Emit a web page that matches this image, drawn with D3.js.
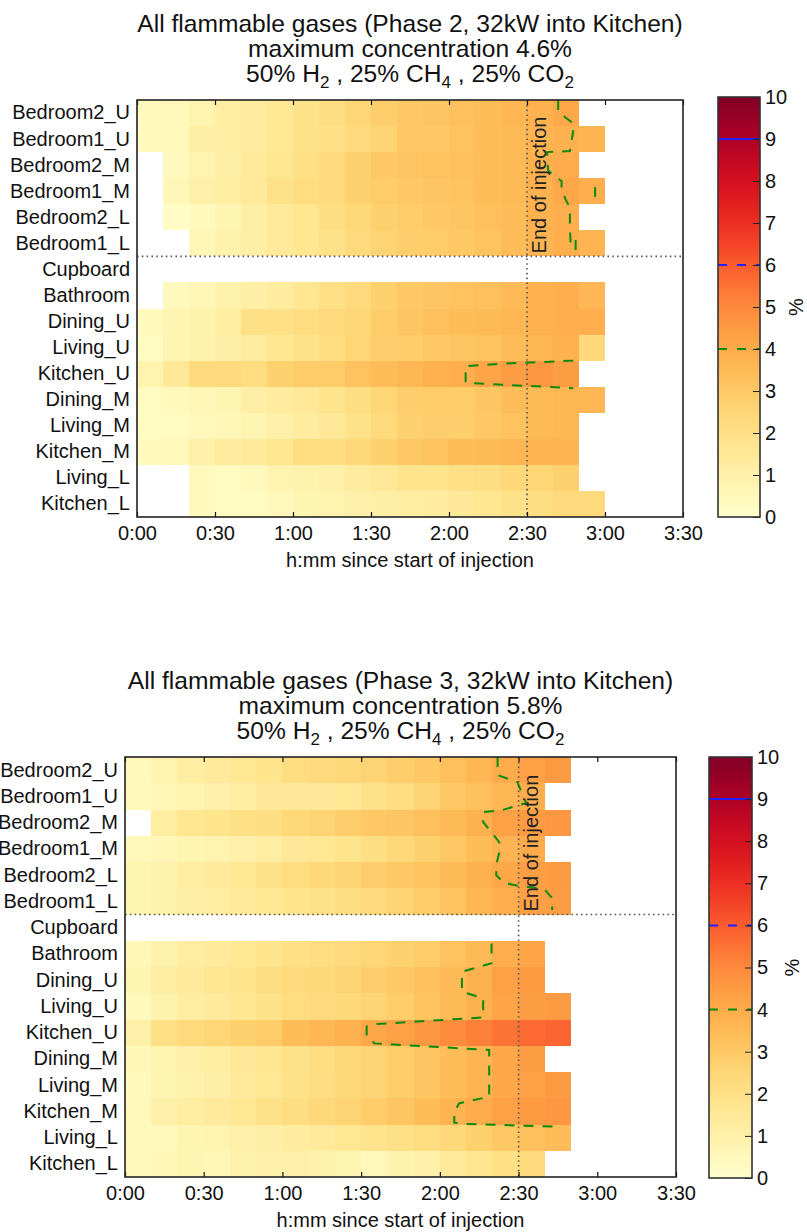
<!DOCTYPE html>
<html>
<head>
<meta charset="utf-8">
<script src="https://cdn.jsdelivr.net/npm/d3@7"></script>
<style>
  body { margin: 0; background: #fff; }
  svg { display: block; font-family: "Liberation Sans", Arial, Helvetica, sans-serif; }
</style>
</head>
<body>
<svg id="fig" width="807" height="1232"></svg>
<script>
// Sensor locations, top to bottom
const rooms = ["Bedroom2_U","Bedroom1_U","Bedroom2_M","Bedroom1_M","Bedroom2_L","Bedroom1_L",
  "Cupboard","Bathroom","Dining_U","Living_U","Kitchen_U","Dining_M","Living_M","Kitchen_M",
  "Living_L","Kitchen_L"];

// Start of each 10-minute averaging slot (minutes since start of injection)
const slotStarts = [0,10,20,30,40,50,60,70,80,90,100,110,120,130,140,150,160,170];
const slotLength = 10;
const timeTicks = [0,30,60,90,120,150,180,210];
const timeDomain = [0,210];
const injectionEnd = 150;
const colorbarTicks = [0,1,2,3,4,5,6,7,8,9,10];
const colorDomain = [0,10];

// Reference concentration levels shown on the colour bar
const levelValues = [4, 6, 9];
const levelColors = ["#0a8a0a", "#1f1fff", "#1f1fff"];
const levelDashed = [true, true, false];

// Phase 2: flammable gas concentration (%) per room and slot (null = no reading)
const phase2Values = [
  [0.4,0.5,0.8,1.2,1.3,1.6,1.9,2.1,2.5,2.8,3.0,3.1,3.3,3.4,3.6,3.8,4.1,null],
  [0.4,0.5,1.1,1.2,1.3,1.6,1.9,2.0,2.3,2.6,3.0,3.0,3.2,3.4,3.5,3.7,3.8,3.7],
  [null,0.4,0.8,1.1,1.4,1.7,2.0,2.3,2.7,3.0,3.1,3.2,3.3,3.4,3.5,3.8,4.0,null],
  [null,0.6,1.0,1.2,1.4,1.9,2.2,2.3,2.7,2.9,3.0,3.1,3.2,3.4,3.5,3.8,4.1,3.9],
  [null,0.2,0.4,0.7,1.1,1.4,1.7,2.1,2.4,2.7,2.9,3.0,3.1,3.3,3.4,3.8,3.9,null],
  [null,null,0.6,0.9,1.1,1.4,1.7,1.9,2.3,2.6,2.8,2.9,3.0,3.2,3.4,3.7,3.9,3.7],
  [null,null,null,null,null,null,null,null,null,null,null,null,null,null,null,null,null,null],
  [null,0.4,0.6,0.9,1.1,1.3,1.7,2.0,2.3,2.7,3.0,3.1,3.2,3.3,3.5,3.8,3.9,3.6],
  [0.4,0.7,0.9,1.2,2.0,2.0,2.2,2.3,2.5,2.9,3.1,3.3,3.4,3.5,3.6,3.8,3.9,3.9],
  [0.3,0.7,0.9,1.1,1.3,1.7,1.9,2.2,2.5,2.8,2.9,3.0,3.1,3.2,3.4,3.6,3.8,2.4],
  [0.8,1.5,2.3,2.3,2.2,2.7,2.9,2.9,3.2,3.4,3.6,3.8,3.9,4.2,4.4,4.6,4.4,null],
  [0.3,0.4,0.6,0.7,1.1,1.3,1.5,1.8,2.1,2.5,2.8,2.9,2.9,3.1,3.4,3.5,3.6,3.6],
  [0.3,0.3,0.5,0.6,0.7,1.0,1.3,1.5,1.9,2.3,2.7,2.8,2.8,3.0,3.2,3.5,3.6,null],
  [0.4,0.5,1.0,1.3,1.4,1.7,2.2,2.2,2.4,2.7,3.0,3.2,3.4,3.5,3.6,3.7,3.7,null],
  [null,null,0.4,0.3,0.4,0.8,0.9,1.0,1.3,1.5,1.8,1.8,2.0,2.1,2.4,2.5,2.7,null],
  [null,null,0.4,0.3,0.3,0.5,0.7,0.8,1.0,1.1,1.2,1.3,1.5,1.7,1.9,2.1,2.3,2.3]
];

// Phase 3: flammable gas concentration (%) per room and slot (null = no reading)
const phase3Values = [
  [0.5,0.8,1.2,1.4,1.6,1.8,2.2,2.3,2.4,2.6,2.8,3.0,3.3,3.6,4.0,4.3,4.5,null],
  [0.5,0.6,0.8,1.0,1.2,1.5,1.5,1.5,1.6,1.9,2.2,2.6,3.0,3.3,3.6,3.9,null,null],
  [null,1.2,1.7,1.8,2.0,2.1,2.4,2.6,2.8,3.0,3.1,3.3,3.5,3.8,4.3,4.5,4.6,null],
  [0.5,0.6,0.7,0.8,1.0,1.2,1.5,1.6,1.8,2.1,2.4,2.7,3.0,3.4,3.7,4.0,null,null],
  [0.7,0.9,1.2,1.4,1.6,1.9,2.2,2.4,2.6,2.8,3.0,3.2,3.5,3.8,4.1,4.4,4.5,null],
  [0.7,0.9,1.1,1.2,1.4,1.6,1.8,1.9,2.1,2.3,2.6,2.9,3.2,3.6,3.9,4.3,4.4,null],
  [null,null,null,null,null,null,null,null,null,null,null,null,null,null,null,null,null,null],
  [0.6,0.9,1.2,1.4,1.6,1.8,2.0,2.2,2.3,2.5,2.7,2.9,3.2,3.5,3.9,4.2,null,null],
  [0.7,1.2,1.4,1.7,1.8,2.1,2.3,2.4,2.6,2.8,3.0,3.3,3.5,3.8,4.3,4.5,null,null],
  [0.4,0.9,1.2,1.4,1.7,1.9,2.2,2.3,2.4,2.6,2.9,3.2,3.5,3.8,4.2,4.4,4.5,null],
  [1.0,2.0,2.3,2.5,2.7,2.9,3.4,3.6,3.8,4.1,4.3,4.6,4.9,5.2,5.5,5.7,5.8,null],
  [0.6,0.8,1.0,1.2,1.5,1.7,1.9,2.2,2.4,2.6,2.9,3.1,3.4,3.7,4.1,4.4,null,null],
  [0.4,0.7,0.9,1.1,1.4,1.6,1.9,2.1,2.4,2.6,2.9,3.1,3.4,3.7,4.1,4.3,4.5,null],
  [0.5,1.0,1.2,1.4,1.6,1.9,2.1,2.4,2.6,2.9,3.1,3.4,3.7,4.0,4.3,4.5,4.6,null],
  [0.5,0.5,0.7,0.8,1.0,1.1,1.3,1.4,1.6,1.8,2.0,2.2,2.4,2.7,3.0,3.3,3.4,null],
  [0.5,0.6,0.7,0.6,0.9,1.0,1.0,0.9,0.7,0.5,0.9,1.0,1.4,1.7,2.0,2.3,null,null]
];

// 4 % iso-lines as [minutes, row position] (row position 0 = top edge, 16 = bottom edge)
const phase2Contour4 = [
  [[162.0,0],[162.0,0.46],[168.1,0.92],[167.7,1.23],[166.5,1.96],[157.7,2.0],[158.1,2.69],[160.0,2.88],
   [163.3,3.11],[163.3,3.45],[165.0,3.84],[166.5,4.14],[166.5,4.91],[166.9,5.72]],
  [[168.7,5.37],[168.7,5.76]],
  [[176.2,3.34],[176.2,3.72]],
  [[167.8,10.0],[140.0,10.12],[126.4,10.21],[126.4,10.85],[167.8,11.06]]
];
const phase3Contour4 = [
  [[142.0,0],[142.0,0.69],[149.5,0.95],[152.9,1.75],[143.8,2.02],[136.5,2.10],[136.5,2.48],[139.6,2.86],
   [142.6,3.24],[142.6,3.66],[141.5,4.11],[141.5,4.50],[144.5,4.80],[150.2,4.91],[159.8,5.03],
   [162.8,5.37],[162.8,5.83]],
  [[139.7,7.10],[139.7,7.86],[128.4,8.18],[128.4,8.94],[136.5,9.19],[136.5,9.92],[95.1,10.18],
   [92.1,10.27],[92.1,10.66],[95.1,10.91],[138.8,11.16],[138.8,12.94],[127.4,13.19],[125.5,13.51],
   [125.5,13.93],[129.3,13.98],[164.8,14.08]]
];

const phaseNames = ["Phase 2", "Phase 3"];
const sourceLabel = "32kW into Kitchen";

// ---------------------------------------------------------------------------
const svg = d3.select("#fig");
const color = d3.scaleSequential(d3.interpolateYlOrRd).domain(colorDomain);
const fmtTime = m => `${Math.floor(m / 60)}:${String(m % 60).padStart(2, "0")}`;
const textColor = "#111";

// shared vertical gradient for the colour bars
const grad = svg.append("defs").append("linearGradient")
  .attr("id", "cbgrad").attr("x1", 0).attr("y1", 1).attr("x2", 0).attr("y2", 0);
d3.range(0, 1.0001, 0.02).forEach(t => {
  grad.append("stop").attr("offset", t).attr("stop-color", d3.interpolateYlOrRd(t));
});

function drawPanel(values, contours, phase, box) {
  const g = svg.append("g");
  const x = d3.scaleLinear().domain(timeDomain).range([box.left, box.right]);
  const yBand = d3.scaleBand().domain(rooms).range([box.top, box.bottom]).padding(0);
  const yPos = d3.scaleLinear().domain([0, rooms.length]).range([box.top, box.bottom]);

  // title
  const maxVal = d3.max(values.flat().filter(v => v != null));
  const cx = (box.left + box.right) / 2;
  const title = g.append("text").attr("text-anchor", "middle").attr("fill", textColor)
    .style("font-size", "24.6px");
  title.append("tspan").attr("x", cx).attr("y", box.top - 68)
    .text(`All flammable gases (${phase}, ${sourceLabel})`);
  title.append("tspan").attr("x", cx).attr("y", box.top - 43)
    .text(`maximum concentration ${maxVal.toFixed(1)}%`);
  const l3 = g.append("text").attr("text-anchor", "middle").attr("fill", textColor)
    .attr("x", cx).attr("y", box.top - 18).style("font-size", "24.6px");
  const parts = [["50% H", false], ["2", true], [" , 25% CH", false], ["4", true], [" , 25% CO", false], ["2", true]];
  parts.forEach(([s, sub]) => {
    const t = l3.append("tspan").text(s);
    if (sub) t.style("font-size", "17px").attr("dy", 6);
    else t.attr("dy", l3.selectAll("tspan").size() > 1 ? -6 : 0);
  });

  // heat map cells
  const cells = [];
  values.forEach((row, r) => row.forEach((v, c) => {
    if (v != null) cells.push({ room: rooms[r], t: slotStarts[c], v });
  }));
  g.append("g").selectAll("rect").data(cells).join("rect")
    .attr("x", d => x(d.t))
    .attr("width", d => x(d.t + slotLength) - x(d.t))
    .attr("y", d => yBand(d.room))
    .attr("height", yBand.bandwidth())
    .attr("fill", d => color(d.v))
    .attr("shape-rendering", "crispEdges");

  // 4 % iso-lines
  const line = d3.line().x(d => x(d[0])).y(d => yPos(d[1]));
  g.append("g").selectAll("path").data(contours).join("path")
    .attr("d", line).attr("fill", "none")
    .attr("stroke", levelColors[0]).attr("stroke-width", 2)
    .attr("stroke-dasharray", "10,9");

  // dotted separators: cupboard boundary and end of injection
  const dotted = { stroke: "#555", "stroke-width": 1.6, "stroke-dasharray": "1.6,3.2" };
  const hl = g.append("line").attr("x1", box.left).attr("x2", box.right)
    .attr("y1", yBand("Cupboard")).attr("y2", yBand("Cupboard"));
  const vl = g.append("line").attr("x1", x(injectionEnd)).attr("x2", x(injectionEnd))
    .attr("y1", box.top).attr("y2", box.bottom);
  [hl, vl].forEach(l => Object.entries(dotted).forEach(([k, v]) => l.attr(k, v)));

  g.append("text")
    .attr("transform", `translate(${x(injectionEnd) + 19},${yBand("Cupboard") - 3}) rotate(-90)`)
    .attr("fill", "#222").style("font-size", "20px")
    .text("End of injection");

  // axes
  const xAxis = g.append("g").attr("transform", `translate(0,${box.bottom})`)
    .call(d3.axisBottom(x).tickValues(timeTicks).tickFormat(fmtTime).tickSize(-5).tickPadding(9));
  const xTop = g.append("g").attr("transform", `translate(0,${box.top})`)
    .call(d3.axisTop(x).tickValues(timeTicks).tickFormat("").tickSize(-5));
  const yAxis = g.append("g").attr("transform", `translate(${box.left},0)`)
    .call(d3.axisLeft(yBand).tickSize(0).tickPadding(7));
  [xAxis, xTop, yAxis].forEach(a => {
    a.select(".domain").remove();
    a.selectAll("text").attr("fill", textColor).style("font-size", "20px").style("font-family", null);
    a.selectAll("line").attr("stroke", "#111").attr("stroke-width", 1.2);
  });

  g.append("text").attr("x", cx).attr("y", box.bottom + 50)
    .attr("text-anchor", "middle").attr("fill", textColor).style("font-size", "20px")
    .text("h:mm since start of injection");

  // frame
  g.append("rect").attr("x", box.left).attr("y", box.top)
    .attr("width", box.right - box.left).attr("height", box.bottom - box.top)
    .attr("fill", "none").attr("stroke", "#222").attr("stroke-width", 1.6);

  // colour bar
  const cb = d3.scaleLinear().domain(colorDomain).range([box.cbBottom, box.cbTop]);
  g.append("rect").attr("x", box.cbLeft).attr("y", box.cbTop)
    .attr("width", box.cbRight - box.cbLeft).attr("height", box.cbBottom - box.cbTop)
    .attr("fill", "url(#cbgrad)");
  levelValues.forEach((v, i) => {
    g.append("line").attr("x1", box.cbLeft).attr("x2", box.cbRight)
      .attr("y1", cb(v)).attr("y2", cb(v))
      .attr("stroke", levelColors[i]).attr("stroke-width", 2)
      .attr("stroke-dasharray", levelDashed[i] ? "9,10" : null);
  });
  const cbAxis = g.append("g").attr("transform", `translate(${box.cbRight},0)`)
    .call(d3.axisRight(cb).tickValues(colorbarTicks).tickFormat(d3.format("d")).tickSize(-7).tickPadding(5));
  cbAxis.select(".domain").remove();
  cbAxis.selectAll("text").attr("fill", textColor).style("font-size", "20px").style("font-family", null);
  cbAxis.selectAll("line").attr("stroke", "#222");
  g.append("rect").attr("x", box.cbLeft).attr("y", box.cbTop)
    .attr("width", box.cbRight - box.cbLeft).attr("height", box.cbBottom - box.cbTop)
    .attr("fill", "none").attr("stroke", "#333").attr("stroke-width", 1.6);
  g.append("text")
    .attr("transform", `translate(${box.pctX},${(box.cbTop + box.cbBottom) / 2}) rotate(-90)`)
    .attr("text-anchor", "middle").attr("fill", textColor).style("font-size", "20px")
    .text("%");
}

drawPanel(phase2Values, phase2Contour4, phaseNames[0],
  { left: 137, right: 683, top: 100, bottom: 517, cbLeft: 718, cbRight: 760, cbTop: 97, cbBottom: 517, pctX: 803 });
drawPanel(phase3Values, phase3Contour4, phaseNames[1],
  { left: 125, right: 676, top: 757, bottom: 1177, cbLeft: 709, cbRight: 752, cbTop: 757, cbBottom: 1178, pctX: 799 });
</script>
</body>
</html>
